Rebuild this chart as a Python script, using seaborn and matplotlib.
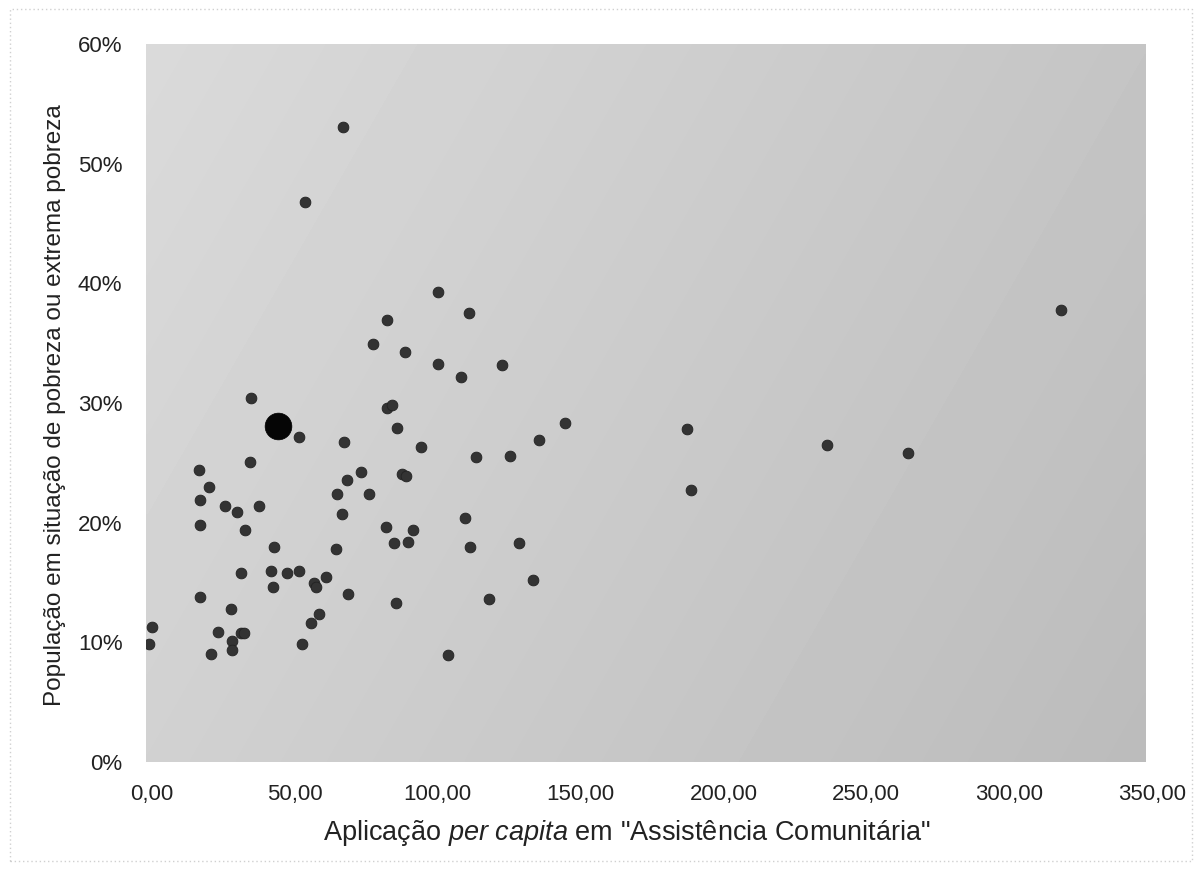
import numpy as np
import pandas as pd
import matplotlib
matplotlib.use("Agg")
import matplotlib.pyplot as plt
import matplotlib.transforms as mtransforms
import seaborn as sns

# ---- data ----
aplicacao = [69.0, 55.7, 102.1, 112.9, 84.3, 79.5, 90.7, 102.1, 124.5, 110.3,
             36.6, 53.7, 69.4, 84.5, 86.0, 87.9, 96.3, 137.6, 115.5, 127.3,
             18.4, 36.4, 22.2, 18.8, 27.5, 31.9, 39.6, 18.9, 34.6, 75.4,
             70.4, 66.9, 78.1, 68.7, 89.6, 90.9, 111.8, 83.9, 93.5, 86.8,
             91.8, 113.5, 130.4, 44.7, 66.5, 33.1, 43.8, 49.2, 53.7, 63.0,
             58.9, 59.6, 44.3, 70.7, 135.3, 18.8, 87.5, 120.1, 29.6, 60.6,
             57.8, 2.2, 1.2, 25.1, 33.2, 34.4, 30.2, 30.2, 22.8, 54.7,
             105.8, 146.5, 189.2, 190.9, 320.1, 238.4, 266.8]
pobreza = [53.1, 46.8, 39.3, 37.5, 36.9, 34.9, 34.3, 33.3, 33.2, 32.2,
           30.4, 27.2, 26.75, 29.6, 29.8, 27.9, 26.3, 26.9, 25.5, 25.6,
           24.4, 25.1, 23.0, 21.9, 21.4, 20.9, 21.4, 19.8, 19.4, 24.2,
           23.6, 22.4, 22.4, 20.7, 24.1, 23.9, 20.4, 19.6, 19.4, 18.3,
           18.4, 18.0, 18.3, 18.0, 17.8, 15.8, 16.0, 15.8, 16.0, 15.5,
           15.0, 14.6, 14.6, 14.0, 15.25, 13.75, 13.3, 13.6, 12.8, 12.4,
           11.6, 11.3, 9.9, 10.9, 10.8, 10.8, 10.1, 9.4, 9.05, 9.9,
           8.9, 28.3, 27.8, 22.75, 37.8, 26.5, 25.8]
destaque_x = [46.3]
destaque_y = [28.1]

x_ticks = [0, 50, 100, 150, 200, 250, 300, 350]
x_ticklabels = ["0,00", "50,00", "100,00", "150,00", "200,00", "250,00", "300,00", "350,00"]
y_ticks = [0, 10, 20, 30, 40, 50, 60]
y_ticklabels = ["0%", "10%", "20%", "30%", "40%", "50%", "60%"]

x_label = 'Aplicação $\\mathit{per\\ capita}$ em "Assistência Comunitária"'
y_label = "População em situação de pobreza ou extrema pobreza"

df = pd.DataFrame({"x": aplicacao, "y": pobreza})
df_d = pd.DataFrame({"x": destaque_x, "y": destaque_y})

# ---- style ----
sns.set_style("white")
plt.rcParams["font.family"] = ["Liberation Sans", "DejaVu Sans"]
plt.rcParams["mathtext.fontset"] = "custom"
plt.rcParams["mathtext.rm"] = "Liberation Sans"
plt.rcParams["mathtext.it"] = "Liberation Sans:italic"

fig = plt.figure(figsize=(12, 8.71), dpi=100)
fig.patch.set_facecolor("white")
ax = fig.add_axes([146 / 1200, 1 - 762 / 871, 1000 / 1200, (762 - 44) / 871])

# gray gradient background (lighter at top-left, darker at bottom-right)
gx, gy = np.meshgrid(np.linspace(0, 1, 300), np.linspace(0, 1, 200))
shade = 0.855 - 0.085 * gx - 0.035 * gy
ax.imshow(shade, cmap="gray", vmin=0, vmax=1, extent=[0, 1, 0, 1],
          transform=ax.transAxes, aspect="auto", zorder=0, origin="upper",
          interpolation="bilinear")

sns.scatterplot(data=df, x="x", y="y", ax=ax, color="#333333", s=60,
                edgecolor="#222222", linewidth=0.6, zorder=3, legend=False)
sns.scatterplot(data=df_d, x="x", y="y", ax=ax, color="#050505", s=370,
                edgecolor="#000000", linewidth=0.5, zorder=4, legend=False)

ax.set_xlim(0, 350)
ax.set_ylim(0, 60)
ax.set_xticks(x_ticks)
ax.set_xticklabels(x_ticklabels)
ax.set_yticks(y_ticks)
ax.set_yticklabels(y_ticklabels)
ax.tick_params(axis="both", length=0, labelsize=16, colors="#222222")
ax.tick_params(axis="x", pad=16)
ax.tick_params(axis="y", pad=17)
for s in ax.spines.values():
    s.set_visible(False)

# small right shift of the x tick labels, as in the scan
shift = mtransforms.ScaledTranslation(6 / 100, 0, fig.dpi_scale_trans)
for lab in ax.get_xticklabels():
    lab.set_transform(lab.get_transform() + shift)

ax.set_xlabel(x_label, fontsize=19.5, color="#222222")
ax.xaxis.set_label_coords(0.481, -0.078)
ax.set_ylabel(y_label, fontsize=17.5, color="#222222")
ax.yaxis.set_label_coords(-0.080, 0.497)

# faint outer frame
fig.patches.append(plt.Rectangle((0.008, 0.012), 0.985, 0.978, transform=fig.transFigure,
                                 fill=False, edgecolor="#d0d0d0", linewidth=1,
                                 linestyle=(0, (1, 2))))

fig.savefig("out.png", dpi=100, facecolor="white")
